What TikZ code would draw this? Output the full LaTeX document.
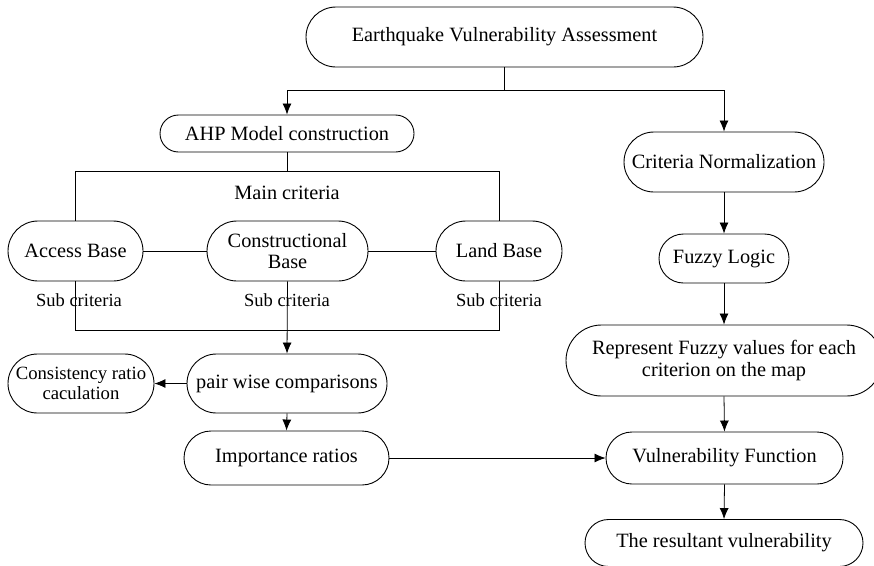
\documentclass[tikz,border=0pt]{standalone}
\usepackage{fontspec}
\setmainfont{Liberation Serif}
\usetikzlibrary{shapes.misc,arrows.meta}
\begin{document}
\begin{tikzpicture}[x=1pt,y=-1pt,
  box/.style={rounded rectangle,draw,line width=0.9pt,inner sep=0pt,align=center,
    font=\fontsize{20.3}{21.5}\selectfont},
  lbl/.style={inner sep=0pt,font=\fontsize{20.3}{21.5}\selectfont},
  sub/.style={inner sep=0pt,font=\fontsize{18.5}{20}\selectfont},
  ln/.style={line width=0.8pt},
  arr/.style={line width=0.8pt,-{Latex[length=11pt,width=9pt]}}]
\useasboundingbox (0,0) rectangle (874,565);
% nodes
\node[box,minimum width=397pt,minimum height=60pt] (eva) at (504.5,37) {Earthquake Vulnerability Assessment};
\node[box,minimum width=254pt,minimum height=37pt] (ahp) at (287,133.5) {AHP Model construction};
\node[box,minimum width=135pt,minimum height=60pt] (acc) at (75.5,251) {Access Base};
\node[box,minimum width=161pt,minimum height=60pt] (con) at (287.5,251) {Constructional\\Base};
\node[box,minimum width=126pt,minimum height=60pt] (land) at (499,251) {Land Base};
\node[box,minimum width=200pt,minimum height=59pt] (pair) at (287,383.5) {pair wise comparisons};
\node[box,minimum width=146pt,minimum height=59pt,font=\fontsize{18.7}{19.5}\selectfont] (cons) at (81,383.5) {Consistency ratio\\caculation};
\node[box,minimum width=205pt,minimum height=54pt] (imp) at (286.5,458) {Importance ratios};
\node[box,minimum width=200pt,minimum height=60pt] (crit) at (724,162) {Criteria Normalization};
\node[box,minimum width=130pt,minimum height=49pt] (fuzzy) at (724,258.5) {Fuzzy Logic};
\node[box,minimum width=316pt,minimum height=71pt] (rep) at (724,360.5) {Represent Fuzzy values for each\\criterion on the map};
\node[box,minimum width=237pt,minimum height=52pt] (vf) at (724.5,458) {Vulnerability Function};
\node[box,minimum width=278pt,minimum height=47pt] (res) at (724,543) {The resultant vulnerability};
% labels
\node[lbl] (mc) at (287,193) {Main criteria};
\node[sub] (s1) at (79,300) {Sub criteria};
\node[sub] (s2) at (287,300) {Sub criteria};
\node[sub] (s3) at (499,300) {Sub criteria};
% junctions
\coordinate (j1) at (504.5,90);
\coordinate (j2) at (287,171);
\coordinate (j3) at (287,330);
% connectors
\draw[ln] (eva.south) -- (j1);
\draw[arr] (j1) -| (ahp.north);
\draw[arr] (j1) -| (crit.north);
\draw[ln] (ahp.south) -- (j2);
\draw[ln] (j2) -| (acc.north);
\draw[ln] (j2) -| (land.north);
\draw[ln] (acc.east) -- (con.west);
\draw[ln] (con.east) -- (land.west);
\draw[ln] (acc.south) |- (j3);
\draw[ln] (land.south) |- (j3);
\draw[arr] (con.south) -- (pair.north);
\draw[arr] (pair.west) -- (cons.east);
\draw[arr] (pair.south) -- (imp.north);
\draw[arr] (imp.east) -- (vf.west);
\draw[arr] (crit.south) -- (fuzzy.north);
\draw[arr] (fuzzy.south) -- (rep.north);
\draw[arr] (rep.south) -- (vf.north);
\draw[arr] (vf.south) -- (res.north);
\end{tikzpicture}
\end{document}
